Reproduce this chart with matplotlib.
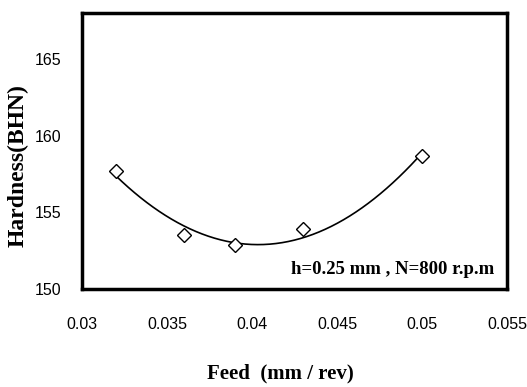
import numpy as np
import matplotlib
matplotlib.use("Agg")
import matplotlib.pyplot as plt

feed = [0.032, 0.036, 0.039, 0.043, 0.050]
hardness = [157.7, 153.5, 152.9, 153.9, 158.7]
xticks = [0.03, 0.035, 0.04, 0.045, 0.05, 0.055]
xtick_labels = ["0.03", "0.035", "0.04", "0.045", "0.05", "0.055"]
yticks = [150, 155, 160, 165]

fig = plt.figure(figsize=(5.27, 3.87), dpi=100)
ax = fig.add_axes([82/527, 1-289/387, (507-82)/527, (289-13)/387])

coef = np.polyfit(feed, hardness, 2)
xs = np.linspace(min(feed), max(feed), 200)
ax.plot(xs, np.polyval(coef, xs), color="black", lw=1.2)
ax.plot(feed, hardness, linestyle="none", marker="D", markersize=7,
        markerfacecolor="white", markeredgecolor="black", markeredgewidth=1.0)

ax.set_xlim(0.03, 0.055)
ax.set_ylim(150, 168)
ax.set_xticks(xticks)
ax.set_xticklabels(xtick_labels)
ax.set_yticks(yticks)
for s in ax.spines.values():
    s.set_linewidth(2.5)
ax.tick_params(axis="both", length=0, labelsize=11.5)
ax.tick_params(axis="y", pad=15)
ax.tick_params(axis="x", pad=20)
for lab in ax.get_xticklabels() + ax.get_yticklabels():
    lab.set_family("Liberation Sans")

ax.set_xlabel("Feed  (mm / rev)", family="Liberation Serif", fontweight="bold",
              fontsize=15, va="center")
ax.set_ylabel("Hardness(BHN)", family="Liberation Serif", fontweight="bold",
              fontsize=17, va="center")
ax.xaxis.set_label_coords((280-82)/425, (289-373)/276)
ax.yaxis.set_label_coords((18-82)/425, (289-166)/276)
ax.text(0.97, 0.07, "h=0.25 mm , N=800 r.p.m", transform=ax.transAxes,
        ha="right", va="center", family="Liberation Serif", fontweight="bold",
        fontsize=13.5)

fig.savefig("out.png", dpi=100)
